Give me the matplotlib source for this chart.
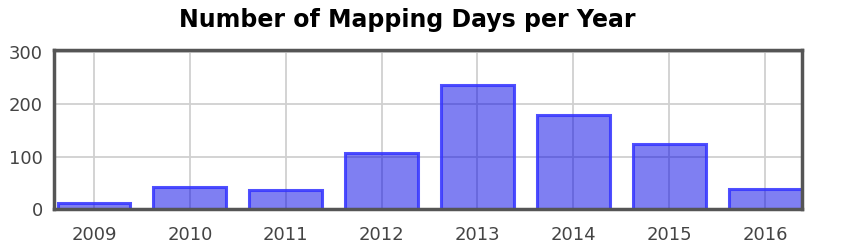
import matplotlib
matplotlib.use("Agg")
import matplotlib.pyplot as plt

years = ["2009", "2010", "2011", "2012", "2013", "2014", "2015", "2016"]
days = [11, 42, 36, 108, 238, 179, 124, 38]
yticks = [0, 100, 200, 300]

fig = plt.figure(figsize=(8.5, 2.5), dpi=100)
ax = fig.add_axes([54/850, 1-209/250, (802-54)/850, (209-50)/250])
x = list(range(len(years)))
ax.bar(x, days, width=0.76, color=(0.0, 0.0, 0.9, 0.5), edgecolor=(0.2, 0.2, 1.0, 0.85), linewidth=2.2, zorder=3)
ax.set_xlim(-0.417, 7.385)
ax.set_ylim(0, 304)
ax.set_xticks(x)
ax.set_xticklabels(years)
ax.set_yticks(yticks)
ax.grid(True, color="#d0d0d0", linewidth=1.3, zorder=0)
ax.set_axisbelow(True)
for s in ax.spines.values():
    s.set_color("#555555")
    s.set_linewidth(2.5)
    s.set_zorder(5)
ax.tick_params(length=0, labelsize=13, colors="#444444")
ax.tick_params(axis="x", pad=12)
ax.tick_params(axis="y", pad=8)
fig.text(0.479, 0.92, "Number of Mapping Days per Year", ha="center", va="center",
         fontsize=17, fontweight="bold", color="black")
fig.savefig("out.png", dpi=100)
